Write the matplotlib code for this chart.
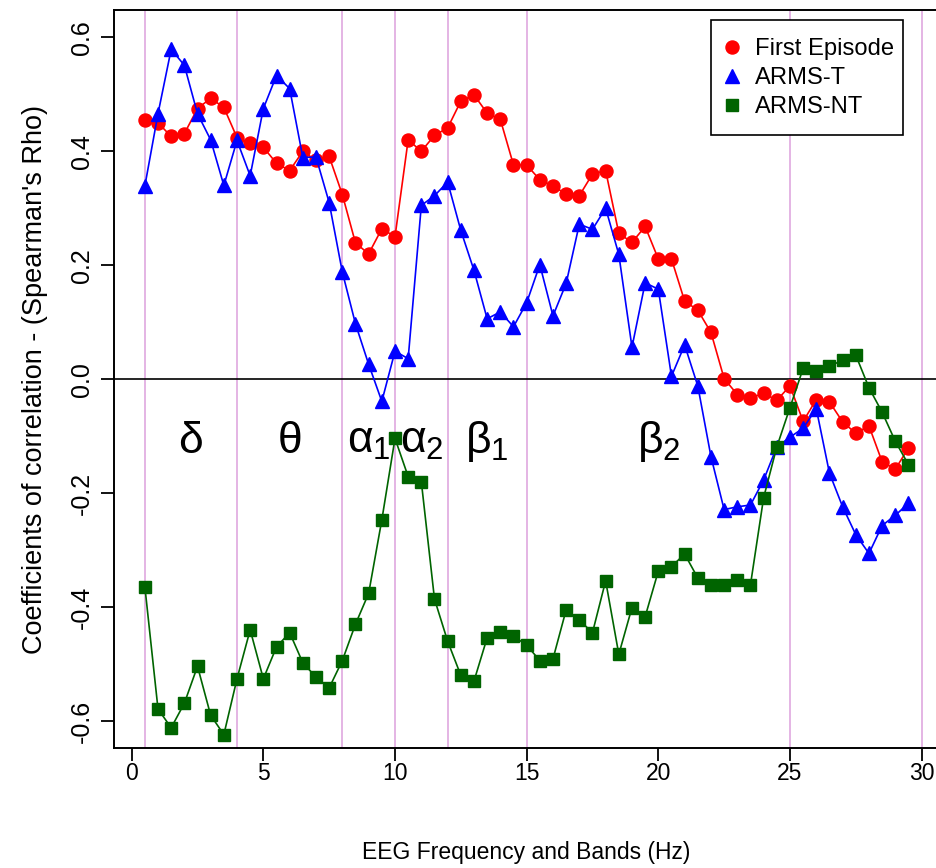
import numpy as np
import matplotlib
matplotlib.use("Agg")
import matplotlib.pyplot as plt
from matplotlib.lines import Line2D
from matplotlib.patches import Rectangle

plt.rcParams['font.family'] = ['Liberation Sans', 'DejaVu Sans']
plt.rcParams['mathtext.fontset'] = 'custom'
plt.rcParams['mathtext.rm'] = 'Liberation Sans'
plt.rcParams['mathtext.it'] = 'Liberation Sans'

freq = np.arange(0.5, 30.0, 0.5)

first_episode = [0.455, 0.450, 0.426, 0.431, 0.475, 0.493, 0.477, 0.424, 0.414, 0.407,
                 0.379, 0.366, 0.400, 0.384, 0.391, 0.324, 0.239, 0.220, 0.264, 0.250,
                 0.420, 0.400, 0.428, 0.441, 0.488, 0.499, 0.467, 0.456, 0.376, 0.376,
                 0.350, 0.339, 0.325, 0.322, 0.360, 0.366, 0.256, 0.240, 0.268, 0.211,
                 0.211, 0.137, 0.121, 0.082, 0.001, -0.027, -0.033, -0.025, -0.037, -0.012,
                 -0.074, -0.036, -0.040, -0.075, -0.095, -0.082, -0.145, -0.158, -0.121]

arms_t = [0.339, 0.466, 0.579, 0.551, 0.466, 0.420, 0.340, 0.419, 0.357, 0.475,
          0.533, 0.510, 0.389, 0.390, 0.310, 0.188, 0.097, 0.026, -0.039, 0.049,
          0.036, 0.305, 0.322, 0.346, 0.261, 0.191, 0.106, 0.118, 0.092, 0.134,
          0.201, 0.111, 0.168, 0.272, 0.263, 0.300, 0.219, 0.056, 0.169, 0.158,
          0.005, 0.060, -0.012, -0.136, -0.229, -0.224, -0.221, -0.177, -0.119, -0.102,
          -0.086, -0.052, -0.165, -0.224, -0.273, -0.306, -0.257, -0.239, -0.218]

arms_nt = [-0.364, -0.579, -0.612, -0.569, -0.504, -0.590, -0.624, -0.526, -0.440, -0.526,
           -0.470, -0.445, -0.498, -0.523, -0.542, -0.494, -0.430, -0.376, -0.247, -0.104,
           -0.171, -0.180, -0.386, -0.460, -0.520, -0.530, -0.454, -0.444, -0.451, -0.467,
           -0.494, -0.491, -0.405, -0.423, -0.445, -0.354, -0.483, -0.401, -0.417, -0.337,
           -0.329, -0.307, -0.349, -0.362, -0.362, -0.352, -0.361, -0.208, -0.119, -0.050,
           0.019, 0.014, 0.023, 0.033, 0.042, -0.015, -0.058, -0.109, -0.150]

band_edges = [0.5, 4, 8, 10, 12, 15, 25, 30]
band_labels = [r'$\delta$', r'$\theta$', r'$\alpha_1$', r'$\alpha_2$', r'$\beta_1$', r'$\beta_2$']
band_centres = [2.25, 6, 9, 11, 13.5, 20]

W, H = 936, 868
fig = plt.figure(figsize=(9.36, 8.68), dpi=100)
ax = fig.add_axes([114.3 / W, 119.7 / H, 824.7 / W, 738.3 / H])

for b in band_edges:
    ax.axvline(b, color='plum', lw=1.1, zorder=1)
ax.axhline(0, color='black', lw=1.2, zorder=2)

ax.plot(freq, first_episode, color='red', lw=1.2, marker='o', ms=9.4, zorder=3)
ax.plot(freq, arms_t, color='blue', lw=1.2, marker='^', ms=10, zorder=3)
ax.plot(freq, arms_nt, color='#006400', lw=1.2, marker='s', ms=8.6, zorder=3)

for lab, xc in zip(band_labels, band_centres):
    ax.text(xc, -0.11, lab, fontsize=32, ha='center', va='center', zorder=4)

ax.set_xlim(-0.66, 30.66)
ax.set_ylim(-0.648, 0.648)
ax.set_xticks([0, 5, 10, 15, 20, 25, 30])
ax.set_yticks([-0.6, -0.4, -0.2, 0.0, 0.2, 0.4, 0.6])
ax.set_yticklabels(['-0.6', '-0.4', '-0.2', '0.0', '0.2', '0.4', '0.6'],
                   rotation=90, va='center')
ax.tick_params(direction='out', length=9.5, width=1.3)
ax.tick_params(axis='x', pad=0.5, labelsize=16.5)
ax.tick_params(axis='y', pad=5, labelsize=18)
for s in ax.spines.values():
    s.set_linewidth(1.4)

ax.set_xlabel('EEG Frequency and Bands (Hz)', fontsize=16.5, labelpad=40)
ax.set_ylabel("Coefficients of correlation - (Spearman's Rho)", fontsize=19.5, labelpad=16)

# legend box drawn separately so its padding matches the reference
box = Rectangle((710.7 / W, 1 - 135 / H), (903.3 - 710.7) / W, 115 / H,
                transform=fig.transFigure, facecolor='white', edgecolor='black',
                lw=1.2, zorder=5)
fig.add_artist(box)

handles = [Line2D([], [], ls='none', marker='o', color='red', ms=9.4),
           Line2D([], [], ls='none', marker='^', color='blue', ms=10),
           Line2D([], [], ls='none', marker='s', color='#006400', ms=8.6)]
leg = fig.legend(handles, ['First Episode', 'ARMS-T', 'ARMS-NT'],
                 loc='center left', bbox_to_anchor=(722.5 / W, 1 - 78 / H),
                 fontsize=17.1, frameon=False,
                 handlelength=0.8, handletextpad=0.57, labelspacing=0.3,
                 borderpad=0, borderaxespad=0)
leg.set_zorder(6)

fig.savefig('out.png', dpi=100)
